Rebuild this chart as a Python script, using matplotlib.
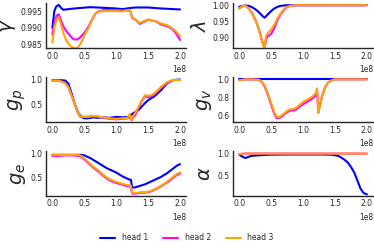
import numpy as np
import matplotlib
matplotlib.use("Agg")
import matplotlib.pyplot as plt
import seaborn as sns
from matplotlib.ticker import FormatStrFormatter

sns.set_style("white")
plt.rcParams['font.family'] = ['DejaVu Sans']

SCALE = 1e8
labels = ["head 1", "head 2", "head 3"]
colors = ["blue", "magenta", "orange"]

# ---- gamma ----
gam_x_b = [0, 0.03, 0.06, 0.1, 0.13, 0.17, 0.25, 0.4, 0.6, 0.8, 1.0, 1.1, 1.2, 1.3, 1.5, 1.7, 1.9, 2.0]
gam_b = [0.9900, 0.9950, 0.9965, 0.9970, 0.9962, 0.9955, 0.9957, 0.9960, 0.9963, 0.9961,
         0.9959, 0.9957, 0.9960, 0.9962, 0.9962, 0.9959, 0.9957, 0.9956]
gam_x = [0, 0.03, 0.07, 0.1, 0.13, 0.17, 0.22, 0.28, 0.33, 0.38, 0.42, 0.47, 0.52, 0.57, 0.62,
         0.67, 0.72, 0.8, 0.9, 1.0, 1.1, 1.2, 1.22, 1.25, 1.3, 1.37, 1.45, 1.5, 1.55, 1.62,
         1.7, 1.8, 1.87, 1.93, 2.0]
gam_m = [0.9880, 0.9915, 0.9938, 0.9941, 0.9925, 0.9905, 0.9890, 0.9875, 0.9865, 0.9864,
         0.9868, 0.9878, 0.9890, 0.9905, 0.9925, 0.9942, 0.9950, 0.9954, 0.9954, 0.9954,
         0.9953, 0.9953, 0.9952, 0.9930, 0.9925, 0.9912, 0.9920, 0.9925, 0.9922, 0.9920,
         0.9910, 0.9905, 0.9898, 0.9885, 0.9863]
gam_o = [0.9855, 0.9900, 0.9928, 0.9932, 0.9915, 0.9885, 0.9860, 0.9845, 0.9838, 0.9838,
         0.9845, 0.9862, 0.9885, 0.9900, 0.9925, 0.9943, 0.9950, 0.9951, 0.9951, 0.9951,
         0.9950, 0.9955, 0.9953, 0.9930, 0.9925, 0.9915, 0.9922, 0.9925, 0.9922, 0.9920,
         0.9913, 0.9908, 0.9900, 0.9890, 0.9875]

# ---- lambda ----
lam_x = [0, 0.05, 0.1, 0.15, 0.2, 0.25, 0.3, 0.35, 0.38, 0.4, 0.42, 0.45, 0.5, 0.55, 0.6,
         0.65, 0.7, 0.75, 0.8, 0.9, 1.0, 1.2, 1.5, 2.0]
lam_b = [0.995, 0.998, 0.999, 0.998, 0.994, 0.988, 0.980, 0.970, 0.964, 0.962, 0.966, 0.972,
         0.982, 0.990, 0.995, 0.998, 0.999, 1.0, 1.0, 1.0, 1.0, 1.0, 1.0, 1.0]
lam_m = [0.990, 0.997, 0.998, 0.990, 0.976, 0.957, 0.932, 0.897, 0.877, 0.872, 0.895, 0.905,
         0.912, 0.930, 0.955, 0.972, 0.986, 0.994, 0.998, 1.0, 1.0, 1.0, 1.0, 1.0]
lam_o = [0.990, 0.997, 0.998, 0.990, 0.975, 0.955, 0.930, 0.895, 0.875, 0.868, 0.905, 0.915,
         0.925, 0.940, 0.960, 0.975, 0.988, 0.995, 0.998, 1.0, 1.0, 1.0, 1.0, 1.0]

# ---- g_p ----
gp_x_b = [0, 0.1, 0.2, 0.25, 0.3, 0.35, 0.4, 0.45, 0.5, 0.55, 0.6, 0.65, 0.7, 0.8, 0.9, 1.0,
          1.1, 1.2, 1.25, 1.3, 1.35, 1.4, 1.45, 1.5, 1.55, 1.6, 1.7, 1.8, 1.9, 2.0]
gp_b = [0.99, 0.99, 0.98, 0.92, 0.72, 0.50, 0.33, 0.24, 0.21, 0.21, 0.22, 0.23, 0.22, 0.23,
        0.22, 0.24, 0.23, 0.24, 0.30, 0.34, 0.38, 0.45, 0.52, 0.58, 0.62, 0.66, 0.78, 0.93,
        0.99, 1.0]
gp_x = [0, 0.1, 0.2, 0.25, 0.3, 0.35, 0.4, 0.43, 0.5, 0.55, 0.6, 0.65, 0.7, 0.8, 0.9, 1.0,
        1.1, 1.18, 1.21, 1.24, 1.26, 1.3, 1.35, 1.4, 1.45, 1.5, 1.55, 1.6, 1.7, 1.8, 1.9, 2.0]
gp_m = [0.98, 0.98, 0.93, 0.85, 0.68, 0.50, 0.33, 0.25, 0.24, 0.24, 0.25, 0.25, 0.25, 0.22,
        0.20, 0.19, 0.20, 0.21, 0.24, 0.17, 0.22, 0.28, 0.42, 0.56, 0.66, 0.64, 0.66, 0.70,
        0.82, 0.94, 0.99, 0.99]
gp_o = [0.98, 0.98, 0.93, 0.85, 0.68, 0.50, 0.33, 0.25, 0.24, 0.24, 0.25, 0.26, 0.25, 0.23,
        0.21, 0.20, 0.21, 0.22, 0.30, 0.17, 0.25, 0.32, 0.45, 0.58, 0.68, 0.67, 0.68, 0.72,
        0.85, 0.95, 0.99, 0.99]

# ---- g_v ----
gv_x_b = [0, 0.5, 1.0, 1.5, 2.0]
gv_b = [0.999, 0.999, 0.999, 0.999, 0.999]
gv_x = [0, 0.1, 0.2, 0.3, 0.35, 0.4, 0.45, 0.5, 0.55, 0.58, 0.62, 0.66, 0.7, 0.75, 0.8, 0.85,
        0.9, 0.95, 1.0, 1.05, 1.1, 1.15, 1.2, 1.22, 1.24, 1.26, 1.3, 1.35, 1.4, 1.45, 1.5,
        1.6, 2.0]
gv_m = [0.99, 1.0, 1.0, 0.995, 0.975, 0.92, 0.83, 0.72, 0.62, 0.575, 0.57, 0.585, 0.61,
        0.635, 0.655, 0.655, 0.67, 0.70, 0.725, 0.745, 0.765, 0.79, 0.82, 0.88, 0.63, 0.70,
        0.82, 0.92, 0.97, 0.99, 1.0, 1.0, 1.0]
gv_o = [0.99, 1.0, 1.0, 0.995, 0.98, 0.93, 0.84, 0.74, 0.64, 0.59, 0.58, 0.60, 0.62, 0.65,
        0.67, 0.67, 0.69, 0.72, 0.75, 0.77, 0.79, 0.81, 0.85, 0.90, 0.63, 0.70, 0.82, 0.92,
        0.97, 0.99, 1.0, 1.0, 1.0]

# ---- g_e ----
ge_x = [0, 0.1, 0.2, 0.3, 0.4, 0.45, 0.5, 0.55, 0.6, 0.65, 0.7, 0.75, 0.8, 0.85, 0.9, 0.95,
        1.0, 1.05, 1.1, 1.15, 1.2, 1.23, 1.25, 1.3, 1.35, 1.4, 1.45, 1.5, 1.55, 1.6, 1.65,
        1.7, 1.75, 1.8, 1.85, 1.9, 1.95, 2.0]
ge_b = [0.97, 0.97, 0.97, 0.97, 0.97, 0.97, 0.96, 0.93, 0.90, 0.86, 0.82, 0.78, 0.74, 0.70,
        0.67, 0.64, 0.61, 0.57, 0.53, 0.50, 0.47, 0.46, 0.30, 0.31, 0.33, 0.35, 0.37, 0.40,
        0.43, 0.46, 0.49, 0.52, 0.56, 0.60, 0.65, 0.70, 0.75, 0.78]
ge_m = [0.95, 0.95, 0.96, 0.96, 0.95, 0.93, 0.88, 0.82, 0.76, 0.70, 0.65, 0.60, 0.54, 0.49,
        0.45, 0.42, 0.40, 0.38, 0.36, 0.34, 0.33, 0.32, 0.18, 0.18, 0.19, 0.20, 0.20, 0.21,
        0.23, 0.26, 0.29, 0.33, 0.37, 0.41, 0.46, 0.51, 0.56, 0.59]
ge_o = [0.97, 0.97, 0.97, 0.97, 0.97, 0.95, 0.90, 0.84, 0.78, 0.72, 0.67, 0.62, 0.56, 0.51,
        0.47, 0.44, 0.42, 0.40, 0.38, 0.36, 0.35, 0.34, 0.19, 0.19, 0.20, 0.21, 0.21, 0.22,
        0.24, 0.27, 0.30, 0.34, 0.38, 0.43, 0.48, 0.53, 0.58, 0.61]

# ---- alpha ----
al_x_b = [0, 0.05, 0.1, 0.15, 0.2, 0.3, 0.4, 0.5, 0.8, 1.0, 1.3, 1.45, 1.55, 1.6, 1.65, 1.7,
          1.75, 1.8, 1.85, 1.9, 1.95, 2.0]
al_b = [0.98, 0.93, 0.90, 0.93, 0.95, 0.96, 0.97, 0.975, 0.98, 0.98, 0.98, 0.975, 0.95,
        0.91, 0.86, 0.80, 0.70, 0.58, 0.40, 0.21, 0.11, 0.08]
al_x = [0, 0.05, 0.1, 0.5, 1.0, 1.5, 2.0]
al_m = [0.99, 0.995, 1.0, 1.0, 1.0, 1.0, 1.0]
al_o = [0.99, 0.995, 1.0, 1.0, 1.0, 1.0, 1.0]

panels = [
    (r"$\gamma$", [(gam_x_b, gam_b), (gam_x, gam_m), (gam_x, gam_o)], (0.98375, 0.9975), [0.985, 0.990, 0.995], "%.3f"),
    (r"$\lambda$", [(lam_x, lam_b), (lam_x, lam_m), (lam_x, lam_o)], (0.868, 1.006), [0.90, 0.95, 1.00], "%.2f"),
    (r"$g_p$", [(gp_x_b, gp_b), (gp_x, gp_m), (gp_x, gp_o)], (0.133, 1.05), [0.5, 1.0], "%.1f"),
    (r"$g_v$", [(gv_x_b, gv_b), (gv_x, gv_m), (gv_x, gv_o)], (0.527, 1.025), [0.6, 0.8, 1.0], "%.1f"),
    (r"$g_e$", [(ge_x, ge_b), (ge_x, ge_m), (ge_x, ge_o)], (0.133, 1.05), [0.5, 1.0], "%.1f"),
    (r"$\alpha$", [(al_x_b, al_b), (al_x, al_m), (al_x, al_o)], (0.044, 1.06), [0.5, 1.0], "%.1f"),
]

fig, axes = plt.subplots(3, 2, figsize=(3.74, 2.49), dpi=100)
fig.subplots_adjust(left=0.123, right=0.998, top=0.987, bottom=0.213, wspace=0.33, hspace=0.64)

for ax, (ylab, series, ylim, yt, fmt) in zip(axes.flat, panels):
    for (xs, ys), c, lab in zip(series, colors, labels):
        ax.plot(np.array(xs) * SCALE, ys, color=c, lw=1.5, label=lab)
    ax.set_ylim(*ylim)
    ax.set_yticks(yt)
    ax.yaxis.set_major_formatter(FormatStrFormatter(fmt))
    ax.set_xticks(np.array([0, 0.5, 1.0, 1.5, 2.0]) * SCALE)
    ax.tick_params(labelsize=5.5, length=0, pad=2.5, colors='.15')
    ax.xaxis.get_offset_text().set_fontsize(5.5)
    ax.set_ylabel(ylab, fontsize=14, labelpad=2)
    sns.despine(ax=ax)
    for s in ax.spines.values():
        s.set_linewidth(1.0)

handles, labs = axes[0, 0].get_legend_handles_labels()
fig.legend(handles, labs, loc='center', bbox_to_anchor=(0.5, 0.045), ncol=3, frameon=False,
           fontsize=5.5, handlelength=2.0, columnspacing=2.0)

fig.savefig("out.png", dpi=100)
